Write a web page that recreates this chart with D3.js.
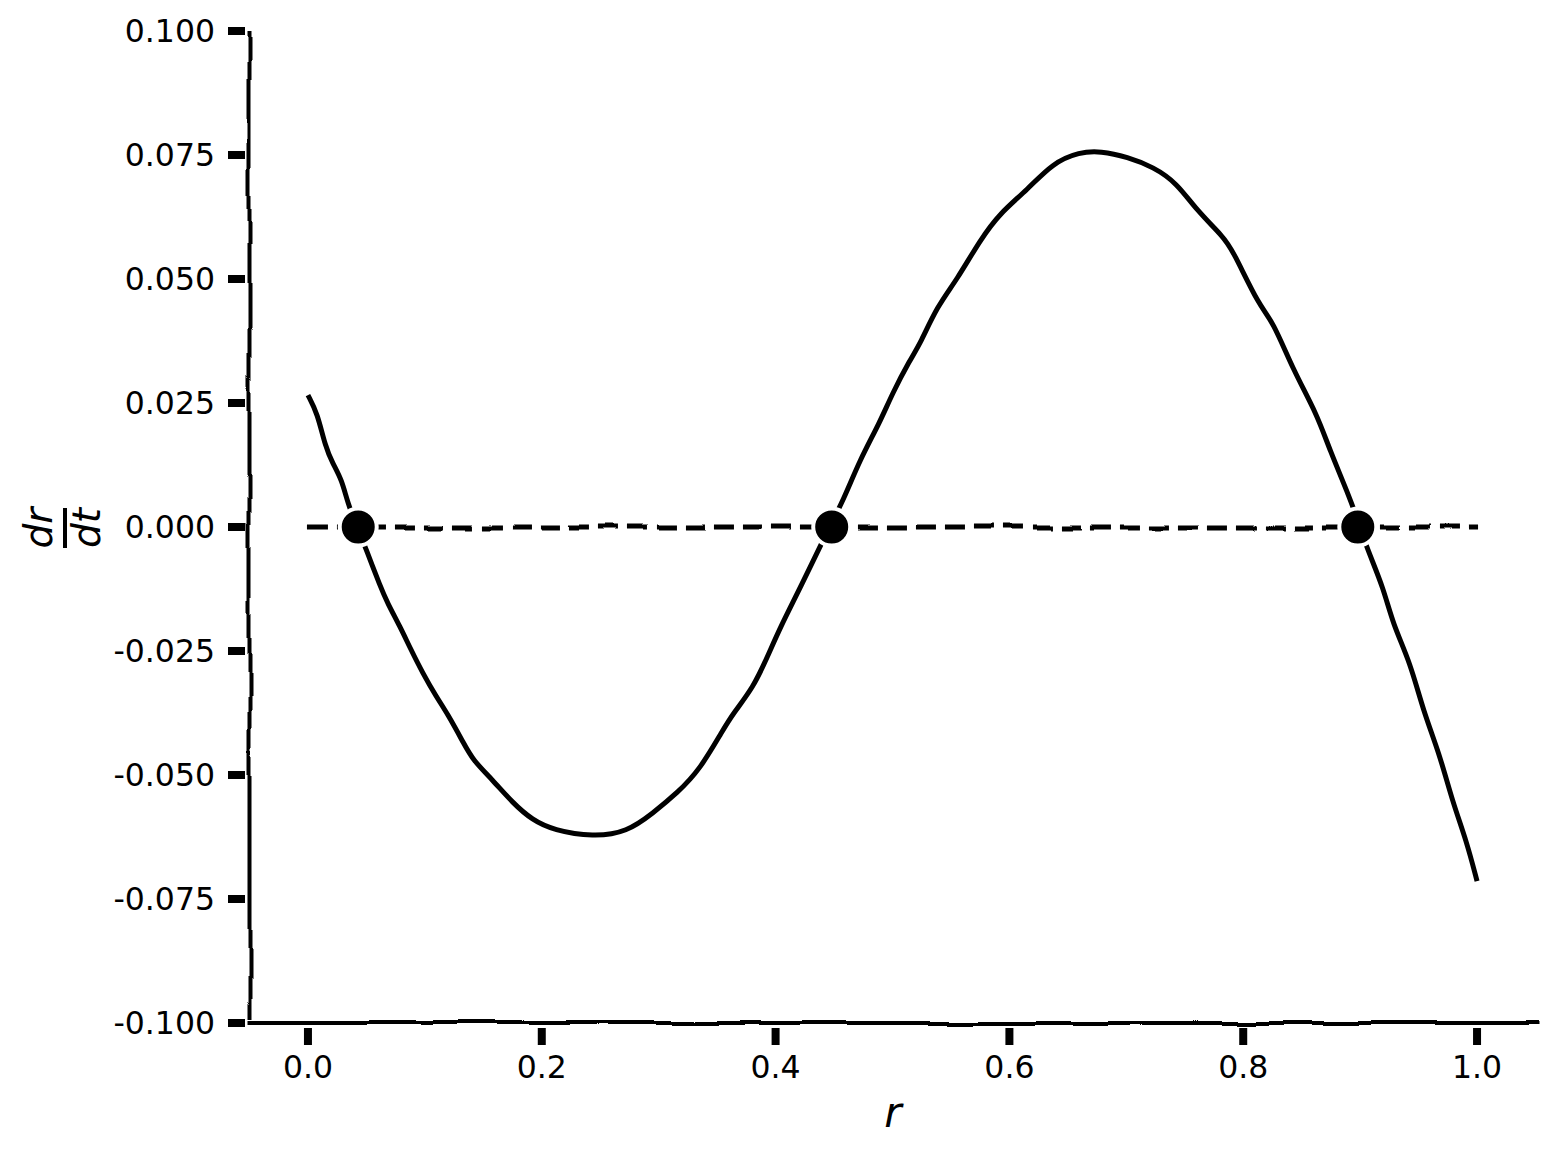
<!DOCTYPE html>
<html>
<head>
<meta charset="utf-8">
<script src="https://cdn.jsdelivr.net/npm/d3@7"></script>
<style>
  body { margin: 0; background: #fff; }
  text { font-family: "DejaVu Sans", sans-serif; fill: #000; }
</style>
</head>
<body>
<svg id="chart" width="1556" height="1155"></svg>
<script>
// values
let rVals = [0.000, 0.008, 0.015, 0.021, 0.029, 0.034, 0.042, 0.050, 0.062, 0.068,
  0.079, 0.087, 0.098, 0.110, 0.119, 0.133, 0.141, 0.158, 0.175, 0.192,
  0.210, 0.244, 0.273, 0.295, 0.316, 0.335, 0.355, 0.364, 0.381, 0.393,
  0.404, 0.421, 0.446, 0.458, 0.472, 0.489, 0.500, 0.515, 0.524, 0.538,
  0.555, 0.575, 0.592, 0.615, 0.637, 0.660, 0.678, 0.701, 0.723, 0.743,
  0.760, 0.783, 0.791, 0.814, 0.825, 0.843, 0.863, 0.874, 0.891, 0.900,
  0.906, 0.920, 0.928, 0.943, 0.954, 0.968, 0.979, 0.991, 1.000]
let drdt = [0.0266, 0.0230, 0.0161, 0.0129, 0.0095, 0.0048, 0.0000, -0.0046, -0.0121, -0.0153,
  -0.0202, -0.0242, -0.0294, -0.0343, -0.0375, -0.0435, -0.0470, -0.0510, -0.0556, -0.0591,
  -0.0611, -0.0625, -0.0615, -0.0577, -0.0536, -0.0490, -0.0409, -0.0375, -0.0323, -0.0262,
  -0.0202, -0.0123, 0.0000, 0.0054, 0.0135, 0.0210, 0.0270, 0.0337, 0.0371, 0.0444,
  0.0498, 0.0579, 0.0633, 0.0679, 0.0734, 0.0756, 0.0758, 0.0746, 0.0726, 0.0694,
  0.0639, 0.0585, 0.0558, 0.0444, 0.0417, 0.0315, 0.0228, 0.0155, 0.0060, 0.0000,
  -0.0044, -0.0123, -0.0196, -0.0274, -0.0371, -0.0458, -0.0554, -0.0633, -0.0714]
let fixedPoints = [0.043, 0.448, 0.898]
let zeroLine = [[0, 0], [1, 0]]
let xTicks = [0.0, 0.2, 0.4, 0.6, 0.8, 1.0]
let yTicks = [-0.100, -0.075, -0.050, -0.025, 0.000, 0.025, 0.050, 0.075, 0.100]

let svg = d3.select("#chart")

let x = d3.scaleLinear().domain([-0.05, 1.05]).range([249.5, 1535.5])
let y = d3.scaleLinear().domain([-0.1, 0.1]).range([1023, 31])

// hand drawn wobble for the straight lines
let defs = svg.append("defs")
let filt = defs.append("filter").attr("id", "wobble")
  .attr("filterUnits", "userSpaceOnUse")
  .attr("x", 0).attr("y", 0).attr("width", 1556).attr("height", 1155)
filt.append("feTurbulence")
  .attr("type", "fractalNoise")
  .attr("baseFrequency", "0.018")
  .attr("numOctaves", 1)
  .attr("seed", 3)
  .attr("result", "noise")
filt.append("feDisplacementMap")
  .attr("in", "SourceGraphic")
  .attr("in2", "noise")
  .attr("scale", 7)
  .attr("xChannelSelector", "R")
  .attr("yChannelSelector", "G")

// spines
let spines = svg.append("g").attr("filter", "url(#wobble)")
spines.append("line")
  .attr("x1", x(-0.05)).attr("x2", x(-0.05))
  .attr("y1", y(0.1)).attr("y2", y(-0.1) - 3)
  .attr("stroke", "#000").attr("stroke-width", 4)
spines.append("line")
  .attr("x1", x(-0.05) - 2).attr("x2", x(1.05) + 2)
  .attr("y1", y(-0.1)).attr("y2", y(-0.1))
  .attr("stroke", "#000").attr("stroke-width", 4)

// y ticks
let yt = svg.append("g")
yt.selectAll("line").data(yTicks).enter()
  .append("line")
  .attr("x1", 228).attr("x2", 245)
  .attr("y1", d => y(d)).attr("y2", d => y(d))
  .attr("stroke", "#000").attr("stroke-width", 8)
yt.selectAll("text").data(yTicks).enter()
  .append("text")
  .attr("x", 215).attr("y", d => y(d))
  .attr("dy", "0.36em")
  .attr("text-anchor", "end")
  .attr("font-size", 31.5)
  .text(d => d.toFixed(3))

// x ticks
let xt = svg.append("g")
xt.selectAll("line").data(xTicks).enter()
  .append("line")
  .attr("x1", d => x(d)).attr("x2", d => x(d))
  .attr("y1", 1028).attr("y2", 1045)
  .attr("stroke", "#000").attr("stroke-width", 8)
xt.selectAll("text").data(xTicks).enter()
  .append("text")
  .attr("x", d => x(d)).attr("y", 1078)
  .attr("text-anchor", "middle")
  .attr("font-size", 31.5)
  .text(d => d.toFixed(1))

// axis labels
svg.append("text")
  .attr("x", 893).attr("y", 1127)
  .attr("text-anchor", "middle")
  .attr("font-size", 42)
  .attr("font-style", "italic")
  .text("r")

let yl = svg.append("g").attr("transform", "translate(65,528) rotate(-90)")
yl.append("text")
  .attr("x", 0).attr("y", -13)
  .attr("text-anchor", "middle")
  .attr("font-size", 39).attr("font-style", "italic")
  .text("dr")
yl.append("line")
  .attr("x1", -20).attr("x2", 20)
  .attr("y1", 0).attr("y2", 0)
  .attr("stroke", "#000").attr("stroke-width", 4)
yl.append("text")
  .attr("x", 0).attr("y", 35)
  .attr("text-anchor", "middle")
  .attr("font-size", 39).attr("font-style", "italic")
  .text("dt")

// zero line
svg.append("path")
  .datum(zeroLine)
  .attr("filter", "url(#wobble)")
  .attr("d", d3.line().x(d => x(d[0])).y(d => y(d[1])))
  .attr("fill", "none")
  .attr("stroke", "#000")
  .attr("stroke-width", 5)
  .attr("stroke-dasharray", "20,9")

// dr/dt curve
let pts = rVals.map((r, i) => [r, drdt[i]])
svg.append("path")
  .datum(pts)
  .attr("d", d3.line().x(d => x(d[0])).y(d => y(d[1])).curve(d3.curveBasis))
  .attr("fill", "none")
  .attr("stroke", "#000")
  .attr("stroke-width", 5)
  .attr("stroke-linecap", "butt")

// fixed points
svg.append("g").selectAll("circle")
  .data(fixedPoints).enter()
  .append("circle")
  .attr("cx", d => x(d)).attr("cy", y(0))
  .attr("r", 18.5)
  .attr("fill", "#000")
  .attr("stroke", "#fff")
  .attr("stroke-width", 4)
</script>
</body>
</html>
